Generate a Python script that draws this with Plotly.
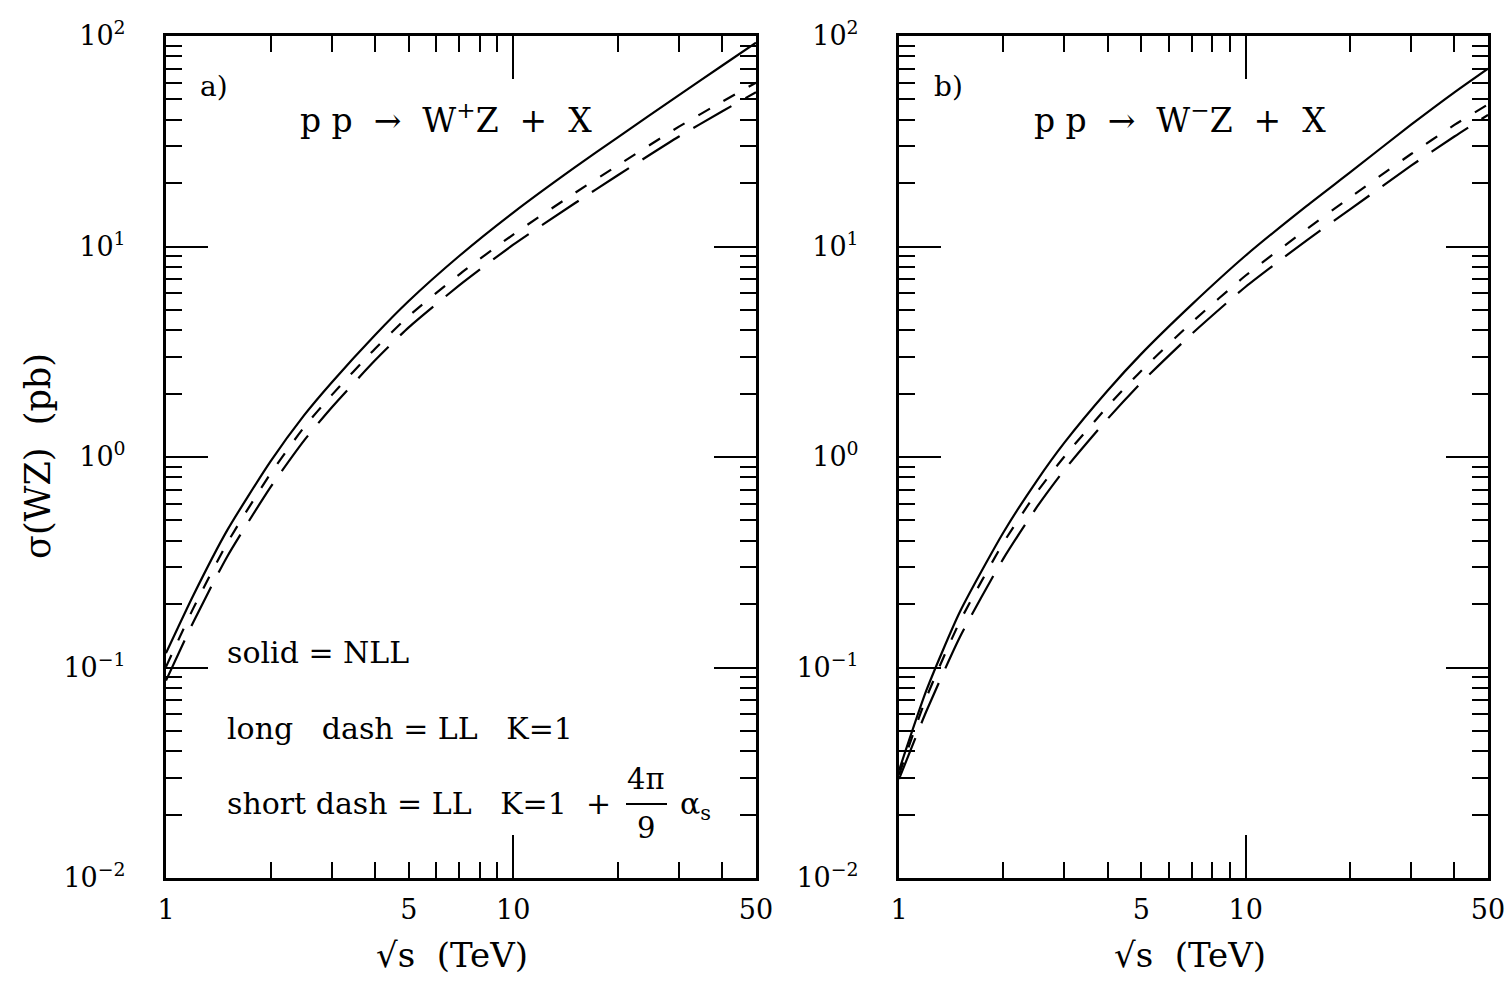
import plotly.graph_objects as go
import numpy as np

# ---------------- data ----------------
sqrt_s = [1, 1.2, 1.5, 2, 2.5, 3, 4, 5, 7, 10, 15, 20, 30, 40, 50]

# panel a) pp -> W+Z + X
a_nll = [0.117, 0.221, 0.448, 0.953, 1.58, 2.26, 3.80, 5.51, 9.04, 14.5, 23.7, 33.0, 52.4, 72.4, 92.9]
a_ll_kfac = [0.1007, 0.192, 0.390, 0.834, 1.387, 1.968, 3.27, 4.67, 7.38, 11.4, 17.9, 24.3, 37.1, 48.8, 60.0]
a_ll_k1 = [0.0867, 0.165, 0.336, 0.719, 1.20, 1.72, 2.88, 4.13, 6.55, 10.2, 16.0, 21.8, 33.3, 43.9, 54.1]

# panel b) pp -> W-Z + X
b_nll = [0.0324, 0.078, 0.1845, 0.438, 0.773, 1.17, 2.07, 3.09, 5.31, 9.06, 15.6, 22.5, 37.9, 54.0, 70.0]
b_ll_kfac = [0.0309, 0.0721, 0.166, 0.391, 0.681, 1.005, 1.74, 2.57, 4.37, 7.28, 12.1, 17.1, 27.5, 37.8, 47.3]
b_ll_k1 = [0.0295, 0.0621, 0.140, 0.329, 0.579, 0.869, 1.52, 2.26, 3.85, 6.44, 10.7, 15.0, 24.2, 33.3, 42.2]

x_tickvals = [1, 5, 10, 50]
x_ticktext = ["1", "5", "10", "50"]
x_minor = [2, 3, 4, 6, 7, 8, 9, 20, 30, 40]
y_tickvals = [0.01, 0.1, 1, 10, 100]
y_ticktext = ["10<sup>\u22122</sup>", "10<sup>\u22121</sup>", "10<sup>0</sup>",
              "10<sup>1</sup>", "10<sup>2</sup>"]
y_minor = [m * 10.0 ** e for e in range(-2, 2) for m in range(2, 10)]

FONT = "DejaVu Serif"
W, H = 1507, 999

# pixel geometry of the two frames
ax_a = (166, 756)
ax_b = (899, 1488)
top_px, bot_px = 36, 878
ydom = [1 - bot_px / H, 1 - top_px / H]

fig = go.Figure()

panels = [
    ("x", "y", "x3", a_nll, a_ll_kfac, a_ll_k1),
    ("x2", "y2", "x4", b_nll, b_ll_kfac, b_ll_k1),
]
for xa, ya, xover, nll, kfac, k1 in panels:
    fig.add_trace(go.Scatter(x=sqrt_s, y=k1, mode="lines", xaxis=xa, yaxis=ya,
                             line=dict(color="black", width=2.2, dash="44px,16px", shape="spline", smoothing=0.6),
                             showlegend=False, hoverinfo="skip"))
    fig.add_trace(go.Scatter(x=sqrt_s, y=kfac, mode="lines", xaxis=xa, yaxis=ya,
                             line=dict(color="black", width=2.2, dash="13px,16px", shape="spline", smoothing=0.6),
                             showlegend=False, hoverinfo="skip"))
    # solid curve drawn on the overlay axis (same range) so that axis is realised
    fig.add_trace(go.Scatter(x=sqrt_s, y=nll, mode="lines", xaxis=xover, yaxis=ya,
                             line=dict(color="black", width=2.2, shape="spline", smoothing=0.6),
                             showlegend=False, hoverinfo="skip"))

xrange_log = [0, np.log10(50)]
yrange_log = [-2, 2]


def xaxis_main(dom, anchor):
    return dict(type="log", range=xrange_log, domain=dom, anchor=anchor, automargin=False,
                showline=True, linewidth=3, linecolor="black", mirror="ticks",
                ticks="inside", ticklen=16, tickwidth=2, tickcolor="black",
                tickvals=x_tickvals, ticktext=x_ticktext, ticklabelstandoff=6,
                tickfont=dict(family=FONT, size=27, color="black"),
                minor=dict(ticks="inside", ticklen=16, tickwidth=2, tickcolor="black",
                           tickvals=x_minor, showgrid=False),
                showgrid=False, zeroline=False)


def xaxis_over(base, anchor):
    return dict(type="log", range=xrange_log, overlaying=base, anchor=anchor, automargin=False,
                showline=False, mirror="ticks", ticks="inside", ticklen=43, tickwidth=2,
                tickcolor="black", tickvals=[10], showticklabels=False,
                showgrid=False, zeroline=False)


def yaxis_main(anchor):
    return dict(type="log", range=yrange_log, domain=ydom, anchor=anchor, automargin=False,
                showline=True, linewidth=3, linecolor="black", mirror="ticks",
                ticks="inside", ticklen=42, tickwidth=2, tickcolor="black",
                tickvals=y_tickvals, ticktext=y_ticktext, ticklabelstandoff=32,
                tickfont=dict(family=FONT, size=27, color="black"),
                minor=dict(ticks="inside", ticklen=16, tickwidth=2, tickcolor="black",
                           tickvals=y_minor, showgrid=False),
                showgrid=False, zeroline=False)


fig.update_layout(
    width=W, height=H,
    margin=dict(l=0, r=0, t=0, b=0, pad=0),
    paper_bgcolor="white", plot_bgcolor="white",
    xaxis=xaxis_main([ax_a[0] / W, ax_a[1] / W], "y"),
    xaxis2=xaxis_main([ax_b[0] / W, ax_b[1] / W], "y2"),
    xaxis3=xaxis_over("x", "y"),
    xaxis4=xaxis_over("x2", "y2"),
    yaxis=yaxis_main("x"),
    yaxis2=yaxis_main("x2"),
    showlegend=False,
)

NB = "\u00a0"


def ann(text, xpx, ypx, size=27, xanchor="center", yanchor="middle", angle=0):
    fig.add_annotation(text=text, x=xpx / W, y=1 - ypx / H, xref="paper", yref="paper",
                       xanchor=xanchor, yanchor=yanchor, showarrow=False, textangle=angle,
                       borderpad=0, font=dict(family=FONT, size=size, color="black"))


# panel labels and reaction titles
ann("a)", 199, 86, size=28, xanchor="left")
ann("b)", 933, 86, size=28, xanchor="left")
ann(f"p{NB}p{NB}{NB}\u2192{NB}{NB}W<sup>+</sup>Z{NB}{NB}+{NB}{NB}X", 446, 118, size=33)
ann(f"p{NB}p{NB}{NB}\u2192{NB}{NB}W<sup>\u2212</sup>Z{NB}{NB}+{NB}{NB}X", 1180, 118, size=33)

# axis titles
ann("\u03c3(WZ)" + NB + NB + "(pb)", 38, 456, size=35, angle=-90)
ann("\u221as" + NB + NB + "(TeV)", 452, 955, size=34)
ann("\u221as" + NB + NB + "(TeV)", 1190, 955, size=34)

# key text
ann(f"solid{NB}={NB}NLL", 226, 652, size=30, xanchor="left")
ann(f"long{NB}{NB}{NB}dash{NB}={NB}LL{NB}{NB}{NB}K=1", 226, 728, size=30, xanchor="left")
ann(f"short{NB}dash{NB}={NB}LL{NB}{NB}{NB}K=1{NB}{NB}+", 226, 803, size=30, xanchor="left")
ann("4\u03c0", 646, 779, size=29)
ann("9", 646, 828, size=29)
ann("\u03b1<sub>s</sub>", 679, 805, size=30, xanchor="left")
fig.add_shape(type="line", xref="paper", yref="paper",
              x0=626 / W, x1=667 / W, y0=1 - 804 / H, y1=1 - 804 / H,
              line=dict(color="black", width=2))

# remove the default 8px page margin so the figure sits at the window origin
fig.write_html("out.html", config={"displayModeBar": False},
               post_script="document.body.style.margin='0';document.body.style.overflow='hidden';")
